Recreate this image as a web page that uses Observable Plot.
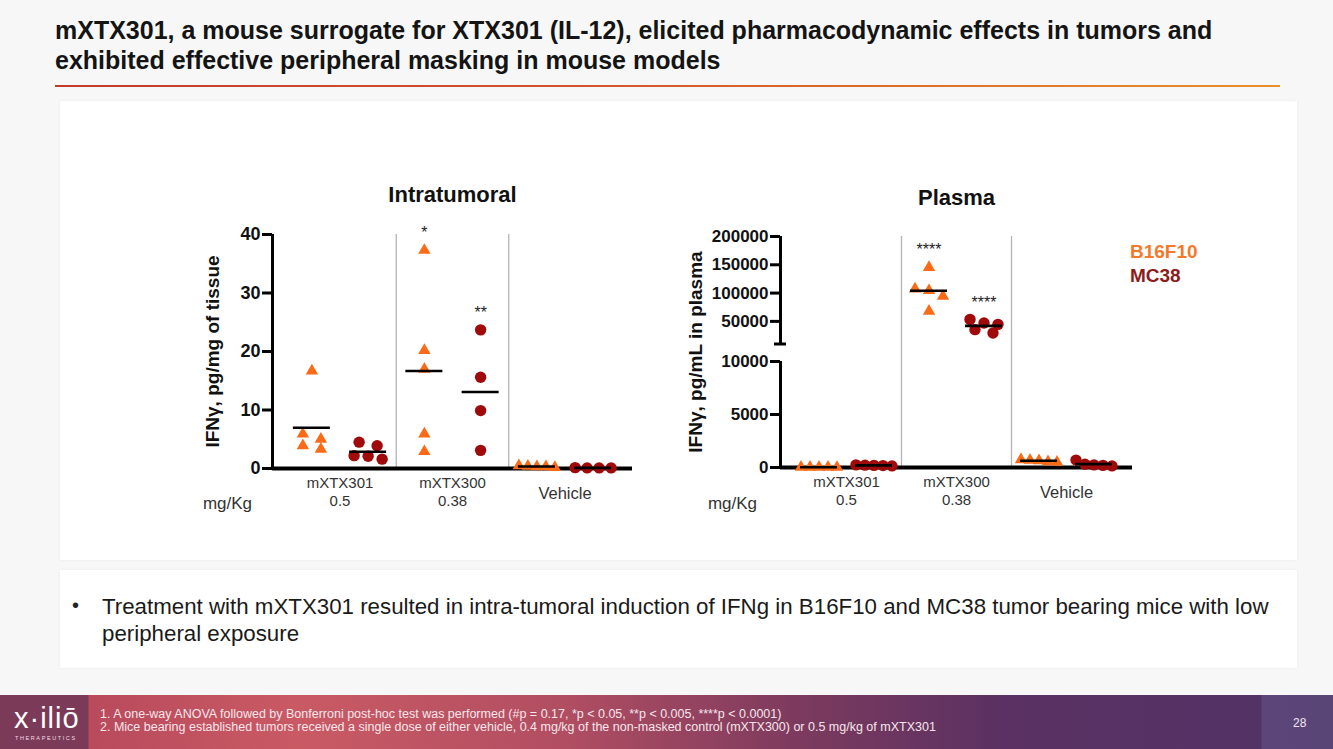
<!DOCTYPE html>
<html>
<head>
<meta charset="utf-8">
<script src="https://cdn.jsdelivr.net/npm/d3@7"></script>
<script src="https://cdn.jsdelivr.net/npm/@observablehq/plot@0.6"></script>
<style>
  html, body { margin: 0; padding: 0; }
  body { width: 1333px; height: 749px; background: #f7f7f7; position: relative; overflow: hidden;
         font-family: "Liberation Sans", Arial, sans-serif; }
  #title { position: absolute; left: 55px; top: 15px; font-size: 25px; font-weight: bold; color: #141414; line-height: 30px; }
  #rule { position: absolute; left: 55px; top: 85px; width: 1225px; height: 2px;
          background: linear-gradient(90deg, #c23b2c 0%, #d4552c 45%, #e8902c 100%); }
  .panel { position: absolute; left: 60px; width: 1237px; background: #fff; box-shadow: 0 0 3px rgba(0,0,0,0.06); }
  #panel1 { top: 101px; height: 459px; }
  #panel2 { top: 570px; height: 98px; }
  #bullet { position: absolute; left: 72px; top: 594px; font-size: 20px; color: #222; }
  #btext { position: absolute; left: 102px; top: 593px; width: 1190px; font-size: 22.3px; line-height: 27px; color: #1a1a1a; }
  .chart { position: absolute; }
  #leftChart { left: 180px; top: 170px; }
  #rightChart { left: 680px; top: 170px; }
  #leftChart g[aria-label="y-axis tick label"] { font-size: 18px; font-weight: bold; }
  #rightChart g[aria-label="y-axis tick label"] { font-size: 17px; font-weight: bold; }
  #legend { position: absolute; left: 1130px; top: 240px; font-size: 19px; font-weight: bold; line-height: 24px; }
  #footer { position: absolute; left: 0; top: 695px; width: 1333px; height: 54px;
    background: linear-gradient(90deg, #7b3a58 0px, #7b3a58 88px, #b84a5c 89px, #c95a64 300px, #b24e62 560px, #7c3a5e 800px, #5a3162 1000px, #533265 1261px, #5c4578 1262px, #5a4577 1333px); }
  #logo { position: absolute; left: 14px; top: 703px; color: #fff; font-size: 29px; letter-spacing: 1px; line-height: 30px; }
  #logoSub { position: absolute; left: 15px; top: 735px; color: #f3dbe3; font-size: 5.5px; letter-spacing: 1.6px; }
  #notes { position: absolute; left: 100px; top: 708px; color: #f6e6ec; font-size: 12.5px; line-height: 12.5px; }
  #page { position: absolute; left: 1293px; top: 716px; color: #f0e8f4; font-size: 12px; }
</style>
</head>
<body>
<div id="title">mXTX301, a mouse surrogate for XTX301 (IL-12), elicited pharmacodynamic effects in tumors and<br>exhibited effective peripheral masking in mouse models</div>
<div id="rule"></div>
<div id="panel1" class="panel"></div>
<div id="panel2" class="panel"></div>
<div id="bullet">•</div>
<div id="btext">Treatment with mXTX301 resulted in intra-tumoral induction of IFNg in B16F10 and MC38 tumor bearing mice with low peripheral exposure</div>
<div id="leftChart" class="chart"></div>
<div id="rightChart" class="chart"></div>
<div id="legend"><div style="color:#f47a2a">B16F10</div><div style="color:#8c1b1b">MC38</div></div>
<div id="footer"></div>
<div id="logo">x·iliō</div>
<div id="logoSub">THERAPEUTICS</div>
<div id="notes">1. A one-way ANOVA followed by Bonferroni post-hoc test was performed (#p = 0.17, *p &lt; 0.05, **p &lt; 0.005, ****p &lt; 0.0001)<br>2. Mice bearing established tumors received a single dose of either vehicle, 0.4 mg/kg of the non-masked control (mXTX300) or 0.5 mg/kg of mXTX301</div>
<div id="page">28</div>

<script>
// ---------------- DATA ----------------
const groups = ["mXTX301", "mXTX300", "Vehicle"];
const doses = ["0.5", "0.38", ""];
const models = ["B16F10", "MC38"];

// Intratumoral IFNγ, pg/mg of tissue
const itB16F10_mXTX301 = [16.7, 5.0, 3.3, 5.9, 3.9];
const itMC38_mXTX301   = [4.5, 3.9, 2.2, 2.1, 1.6];
const itB16F10_mXTX300 = [37.3, 20.2, 17.0, 5.9, 2.9];
const itMC38_mXTX300   = [23.7, 15.6, 9.9, 3.1];
const itB16F10_Vehicle = [0.5, 0.3, 0.4, 0.2, 0.3];
const itMC38_Vehicle   = [0.1, 0.15, 0.1, 0.1];
const itSig = ["", "", "*", "**", "", ""];
const itTicks = [0, 10, 20, 30, 40];

// Plasma IFNγ, pg/mL
const plB16F10_mXTX301 = [40, 25, 30, 20, 35];
const plMC38_mXTX301   = [180, 220, 250, 150, 200];
const plB16F10_mXTX300 = [145500, 107400, 104500, 94500, 68200];
const plMC38_mXTX300   = [53500, 47100, 44700, 35400, 29500];
const plB16F10_Vehicle = [750, 500, 650, 700, 550];
const plMC38_Vehicle   = [250, 200, 700, 300, 150];
const plSig = ["", "", "****", "****", "", ""];
const plTicks = [0, 5000, 10000, 50000, 100000, 150000, 200000];
const plBreak = [10000, 10000.001]; // axis break: low segment ends, high segment starts

// ---------------- STYLE ----------------
const colors = { B16F10: "#fb6a17", MC38: "#a00a0a" };
const FONT = "Liberation Sans, Arial, sans-serif";

function buildRows(byGroup) {
  const rows = [];
  byGroup.forEach((pair, gi) => pair.forEach((vals, mi) => vals.forEach(v =>
    rows.push({ group: groups[gi], model: models[mi], slot: gi * 2 + mi, value: v }))));
  return rows;
}

// beeswarm-like horizontal spreading of points with similar pixel y
function spread(rows, yScale, step) {
  for (const slot of d3.range(6)) {
    const pts = rows.filter(r => r.slot === slot).sort((a, b) => b.value - a.value);
    const clusters = [];
    for (const p of pts) {
      const py = yScale.apply(p.value);
      const c = clusters[clusters.length - 1];
      if (c && Math.abs(py - c.py0) < 10) c.items.push(p);
      else clusters.push({ py0: py, items: [p] });
    }
    for (const c of clusters) {
      const n = c.items.length;
      const sp = n <= 1 ? 0 : n === 2 ? 18 : Math.min(14, 36 / (n - 1));
      c.items.forEach((p, i) => { p.xj = slot + ((i - (n - 1) / 2) * sp) / step; });
    }
  }
}

function drawChart(cfg) {
  const { rows, sig, ticks, yDomain, yRange, width, height, mL, mR, mT, mB,
          title, titleDy, yLabel, yLabelDx, mgDx, mgDy, segments, caps } = cfg;
  const pad = 0.7;
  const xDomain = [-pad, 5 + pad];
  const step = (width - mL - mR) / (xDomain[1] - xDomain[0]);
  const yOpts = { type: "linear", domain: yDomain, range: yRange };
  const yScale = Plot.scale({ y: yOpts });
  spread(rows, yScale, step);
  const half = 18.5 / step;
  const means = d3.rollups(rows, v => d3.mean(v, d => d.value), d => d.slot)
    .map(([slot, m]) => ({ slot, mean: m, x1: slot - half, x2: slot + half }));
  const stars = sig.map((s, slot) => ({ slot, s, top: d3.max(rows.filter(r => r.slot === slot), r => r.value) }))
    .filter(d => d.s);
  const centers = groups.map((g, gi) => ({ g, dose: doses[gi], x: gi * 2 + 0.5 }));
  const yTop = yDomain[yDomain.length - 1];
  const mid = { textAnchor: "middle", lineAnchor: "middle" };

  return Plot.plot({
    width, height, marginLeft: mL, marginRight: mR, marginTop: mT, marginBottom: mB,
    x: { domain: xDomain, axis: null },
    y: { ...yOpts, axis: null },
    style: { fontFamily: FONT, background: "transparent", overflow: "visible" },
    marks: [
      Plot.ruleX([1.5, 3.5], { y1: yDomain[0], y2: yTop, stroke: "#b4b4b4", strokeWidth: 1.3 }),
      Plot.axisY({ ticks, tickSize: 10, tickPadding: 2, strokeWidth: 3, fontWeight: "bold",
                   fill: "#111", tickFormat: d => String(d), label: null }),
      Plot.ruleX(segments, { x: xDomain[0], y1: "y1", y2: "y2", stroke: "#000", strokeWidth: 3 }),
      Plot.ruleY(caps, { y: d => d, x1: xDomain[0] - 6 / step, x2: xDomain[0] + 6 / step, stroke: "#000", strokeWidth: 3 }),
      Plot.ruleY([0], { stroke: "#000", strokeWidth: 4 }),
      Plot.dot(rows.filter(r => r.model === "B16F10"), { x: "xj", y: "value", symbol: "triangle", r: 4.6, fill: colors.B16F10 }),
      Plot.dot(rows.filter(r => r.model === "MC38"), { x: "xj", y: "value", symbol: "circle", r: 5.7, fill: colors.MC38 }),
      Plot.ruleY(means, { x1: "x1", x2: "x2", y: "mean", stroke: "#000", strokeWidth: 2.6 }),
      Plot.text(stars, { x: "slot", y: "top", text: "s", dy: -17, fontSize: 16, fill: "#222", ...mid }),
      Plot.text([title], { frameAnchor: "top", dy: titleDy, fontSize: 22, fontWeight: "bold", fill: "#111", ...mid }),
      Plot.text([yLabel], { frameAnchor: "left", dx: yLabelDx, rotate: -90, fontSize: 19, fontWeight: "bold", fill: "#111", ...mid }),
      Plot.text(centers.filter(d => d.dose), { x: "x", frameAnchor: "bottom", text: "g", dy: 15, fontSize: 15, fill: "#333", ...mid }),
      Plot.text(centers.filter(d => d.dose), { x: "x", frameAnchor: "bottom", text: "dose", dy: 33, fontSize: 15, fill: "#333", ...mid }),
      Plot.text(centers.filter(d => !d.dose), { x: "x", frameAnchor: "bottom", text: "g", dy: 25, fontSize: 16.5, fill: "#333", ...mid }),
      Plot.text(["mg/Kg"], { frameAnchor: "bottom-left", dx: mgDx, dy: mgDy, fontSize: 17, fill: "#333", ...mid })
    ]
  });
}

// Intratumoral
{
  const width = 470, height = 350, mL = 92, mR = 18, mT = 64, mB = 52;
  const rows = buildRows([[itB16F10_mXTX301, itMC38_mXTX301], [itB16F10_mXTX300, itMC38_mXTX300], [itB16F10_Vehicle, itMC38_Vehicle]]);
  document.getElementById("leftChart").append(drawChart({
    rows, sig: itSig, ticks: itTicks,
    yDomain: [itTicks[0], itTicks[itTicks.length - 1]], yRange: [height - mB, mT],
    width, height, mL, mR, mT, mB,
    title: "Intratumoral", titleDy: -40, yLabel: "IFNγ, pg/mg of tissue", yLabelDx: -60,
    mgDx: -45, mgDy: 35,
    segments: [{ y1: itTicks[0], y2: itTicks[itTicks.length - 1] }], caps: []
  }));
}

// Plasma (broken axis)
{
  const width = 470, height = 350, mL = 100, mR = 18, mT = 66, mB = 53;
  const rows = buildRows([[plB16F10_mXTX301, plMC38_mXTX301], [plB16F10_mXTX300, plMC38_mXTX300], [plB16F10_Vehicle, plMC38_Vehicle]]);
  const base = height - mB;
  document.getElementById("rightChart").append(drawChart({
    rows, sig: plSig, ticks: plTicks,
    yDomain: [0, plBreak[0], plBreak[1], plTicks[plTicks.length - 1]],
    yRange: [base, base - 106, base - 123.5, mT],
    width, height, mL, mR, mT, mB,
    title: "Plasma", titleDy: -39, yLabel: "IFNγ, pg/mL in plasma", yLabelDx: -85,
    mgDx: -48, mgDy: 36,
    segments: [{ y1: 0, y2: plBreak[0] }, { y1: plBreak[1], y2: plTicks[plTicks.length - 1] }],
    caps: [plBreak[1]]
  }));
}
</script>
</body>
</html>
